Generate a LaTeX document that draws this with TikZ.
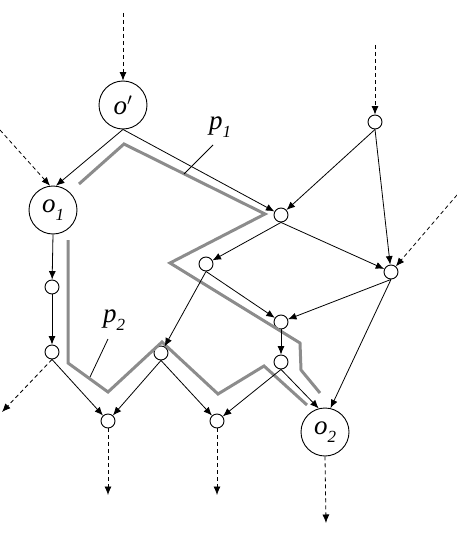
\documentclass[tikz,border=0pt]{standalone}
\usepackage{fontspec}
\setmainfont{Liberation Serif}
\usetikzlibrary{arrows.meta}
\usetikzlibrary{math}

\newcommand{\sublbl}[2]{\textit{#1}\raisebox{-0.3em}{\fontsize{17}{17}\selectfont\textit{#2}}}

\begin{document}
\begin{tikzpicture}[x=1pt,y=-1pt,
  bignode/.style={draw, circle, line width=0.9pt, minimum size=2*\rbig pt, inner sep=0pt, font=\fontsize{27}{27}\selectfont},
  smallnode/.style={draw, circle, line width=0.9pt, minimum size=2*\rsmall pt, inner sep=0pt},
  edge/.style={-{Latex[length=8.5pt,width=7pt]}, line width=0.8pt},
  extedge/.style={edge, dash pattern=on 4pt off 3pt},
  route/.style={line width=3pt, black!45, line join=miter},
  lbl/.style={font=\fontsize{27}{27}\selectfont, inner sep=0pt}]
\tikzmath{
\rbig=24;
\rsmall=7;
}
\useasboundingbox (0,0) rectangle (457,535);

\node[bignode] (op) at (123,105) {\textit{o}$^\prime$};
\node[bignode] (o1) at (53,210) {\sublbl{o}{1}};
\node[bignode] (o2) at (325,432) {\sublbl{o}{2}};

\node[smallnode] (a) at (375,122) {};
\node[smallnode] (b) at (281,215) {};
\node[smallnode] (c) at (391,272) {};
\node[smallnode] (d) at (206,264) {};
\node[smallnode] (e) at (281,322) {};
\node[smallnode] (f) at (281,362) {};
\node[smallnode] (g) at (161,353) {};
\node[smallnode] (h) at (52,287) {};
\node[smallnode] (i) at (52,352) {};
\node[smallnode] (j) at (108,421) {};
\node[smallnode] (k) at (217,421) {};

\coordinate (inop) at (123,13);
\coordinate (ino1) at (0,130);
\coordinate (ina) at (375,45);
\coordinate (inc) at (457,195);
\coordinate (outi) at (2,412);
\coordinate (outj) at (108,495);
\coordinate (outk) at (217,495);
\coordinate (outo2) at (326,523);

\draw[route] (79,184) -- (124,144) -- (265,214) -- (170,263) -- (300,343) -- (301,370) -- (320,393);
\draw[route] (68,240) -- (68,363) -- (108,392) -- (162,342) -- (218,394) -- (264,366) -- (307,405);

\draw[extedge] (inop) -- (op);
\draw[extedge] (ino1) -- (o1.97);
\draw[extedge] (ina) -- (a);
\draw[extedge] (inc) -- (c);

\draw[edge] (op.south) -- (o1.83);
\draw[edge] (op.south) -- (b);
\draw[edge] (a.south) -- (b);
\draw[edge] (a.south) -- (c);
\draw[edge] (b.south) -- (d);
\draw[edge] (b.south) -- (c);
\draw[edge] (d.south) -- (e);
\draw[edge] (c.south) -- (e);
\draw[edge] (d.south) -- (g);
\draw[edge] (e.south) -- (f);
\draw[edge] (f.south) -- (o2.105);
\draw[edge] (c.south) -- (o2.77);
\draw[edge] (f.south) -- (k);
\draw[edge] (g.south) -- (j);
\draw[edge] (g.south) -- (k);
\draw[edge] (o1.south) -- (h);
\draw[edge] (h.south) -- (i);
\draw[edge] (i.south) -- (j);

\draw[extedge] (i.south) -- (outi);
\draw[extedge] (j.south) -- (outj);
\draw[extedge] (k.south) -- (outk);
\draw[extedge] (o2.south) -- (outo2);

\node[lbl] (p1) at (220,127) {\sublbl{p}{1}};
\coordinate (p1top) at (213,145);
\coordinate (p1tip) at (184,174);
\draw[line width=0.8pt] (p1top) -- (p1tip);

\node[lbl] (p2) at (114,320) {\sublbl{p}{2}};
\coordinate (p2top) at (108,339);
\coordinate (p2tip) at (90,377);
\draw[line width=0.8pt] (p2top) -- (p2tip);
\end{tikzpicture}
\end{document}
